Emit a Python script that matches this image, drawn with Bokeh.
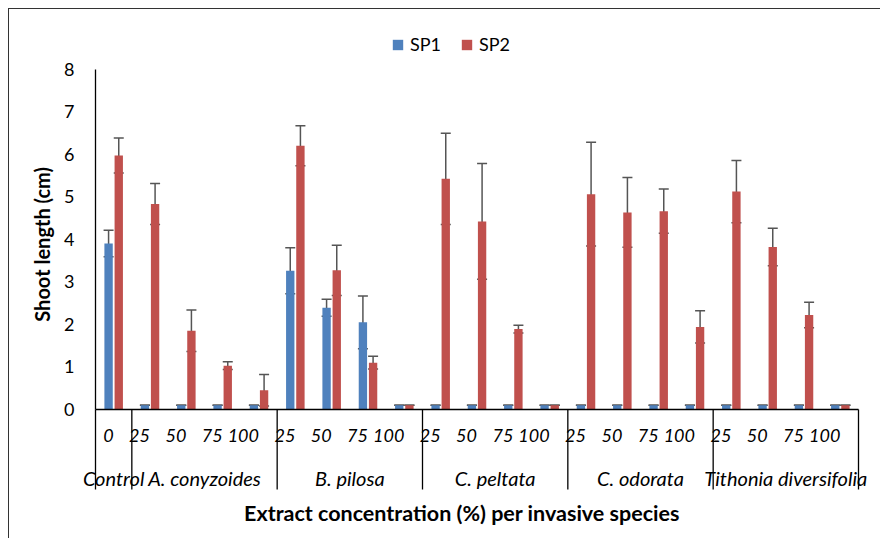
import math
from bokeh.plotting import figure
from bokeh.models import (ColumnDataSource, FactorRange, Whisker, TeeHead, Legend,
                          LegendItem, Range1d, FixedTicker)
from bokeh.core.properties import value
from bokeh.transform import dodge
from bokeh.embed import file_html
from bokeh.resources import INLINE

groups = ["Control", "A. conyzoides", "B. pilosa", "C. peltata", "C. odorata", "Tithonia diversifolia"]
concentrations = {"Control": ["0"],
                  "A. conyzoides": ["25", "50", "75", "100"],
                  "B. pilosa": ["25", "50", "75", "100"],
                  "C. peltata": ["25", "50", "75", "100"],
                  "C. odorata": ["25", "50", "75", "100"],
                  "Tithonia diversifolia": ["25", "50", "75", "100"]}

sp1 = [3.90, 0.1, 0.1, 0.1, 0.1, 3.26, 2.39, 2.05, 0.1, 0.1, 0.1, 0.1, 0.1,
       0.1, 0.1, 0.1, 0.1, 0.1, 0.1, 0.1, 0.1]
sp1_err = [0.31, 0, 0, 0, 0, 0.54, 0.20, 0.62, 0, 0, 0, 0, 0,
           0, 0, 0, 0, 0, 0, 0, 0]
sp2 = [5.97, 4.83, 1.85, 1.03, 0.45, 6.20, 3.27, 1.10, 0.1, 5.42, 4.42, 1.89, 0.1,
       5.06, 4.63, 4.66, 1.94, 5.12, 3.82, 2.22, 0.1]
sp2_err = [0.41, 0.48, 0.49, 0.09, 0.37, 0.47, 0.59, 0.15, 0, 1.07, 1.36, 0.09, 0,
           1.22, 0.82, 0.52, 0.38, 0.73, 0.44, 0.30, 0]

y_ticks = [0, 1, 2, 3, 4, 5, 6, 7, 8]
Y_MAX = 8

x_title = "Extract concentration (%) per invasive species"
y_title = "Shoot length (cm)"

BLUE = "#4F81BD"
RED = "#C0504D"
FONT = "Lato"
Y_TOP = 9.0           # frame extends above the axis top to hold the legend
SEP_DEPTH = -1.88     # group separators run down through the category labels
X_TITLE_Y = -2.44     # x title sits below the group labels
Y_TITLE_Y = 3.88      # vertical centre of the y title

factors = [(g, c) for g in groups for c in concentrations[g]]

src = ColumnDataSource(dict(
    x=factors, sp1=sp1, sp2=sp2,
    sp1_lo=[v - e for v, e in zip(sp1, sp1_err)], sp1_hi=[v + e for v, e in zip(sp1, sp1_err)],
    sp2_lo=[v - e for v, e in zip(sp2, sp2_err)], sp2_hi=[v + e for v, e in zip(sp2, sp2_err)],
))

xr = FactorRange(*factors, group_padding=0, factor_padding=0, range_padding=0)
p = figure(x_range=xr, y_range=Range1d(0, Y_TOP), width=872, height=530,
           output_backend="svg", toolbar_location=None,
           min_border_left=86, min_border_right=23, min_border_top=17, min_border_bottom=130,
           styles={"margin-left": "8px", "margin-top": "8px",
                   "border-left": "1.5px solid #333333", "border-top": "1.5px solid #333333"})

r1 = p.vbar(x=dodge("x", -0.14, range=xr), top="sp1", width=0.23, source=src,
            fill_color=BLUE, line_color=None)
r2 = p.vbar(x=dodge("x", 0.14, range=xr), top="sp2", width=0.23, source=src,
            fill_color=RED, line_color=None)

for off, lo, hi in [(-0.14, "sp1_lo", "sp1_hi"), (0.14, "sp2_lo", "sp2_hi")]:
    w = Whisker(base=dodge("x", off, range=xr), lower=lo, upper=hi, source=src,
                line_color="#555555", line_width=1.5,
                upper_head=TeeHead(size=10, line_color="#555555", line_width=1.5),
                lower_head=TeeHead(size=10, line_color="#555555", line_width=1.5))
    p.add_layout(w)

# group separators (drawn at overlay level so they run below the frame)
first_of_group = [(g, concentrations[g][0]) for g in groups]
last_factor = [factors[-1]]
sep_src = ColumnDataSource(dict(x=first_of_group, y0=[0] * len(groups), y1=[SEP_DEPTH] * len(groups)))
end_src = ColumnDataSource(dict(x=last_factor, y0=[0], y1=[SEP_DEPTH]))
p.segment(x0=dodge("x", -0.5, range=xr), x1=dodge("x", -0.5, range=xr), y0="y0", y1="y1",
          source=sep_src, line_color="black", line_width=1.3, level="overlay")
p.segment(x0=dodge("x", 0.5, range=xr), x1=dodge("x", 0.5, range=xr), y0="y0", y1="y1",
          source=end_src, line_color="black", line_width=1.3, level="overlay")

p.grid.visible = False
p.outline_line_color = None
p.background_fill_color = "white"
p.border_fill_color = "white"

# y axis
p.yaxis.ticker = FixedTicker(ticks=y_ticks)
p.yaxis.bounds = (0, Y_MAX)
p.yaxis.axis_line_color = "black"
p.yaxis.axis_line_width = 1.3
p.yaxis.major_tick_line_color = None
p.yaxis.minor_tick_line_color = None
p.yaxis.major_tick_out = 0
p.yaxis.major_tick_in = 0
p.yaxis.major_label_standoff = 21
p.yaxis.major_label_text_font = FONT
p.yaxis.major_label_text_font_size = "18px"
p.yaxis.major_label_text_color = "black"

# x axis
p.xaxis.axis_line_color = "black"
p.xaxis.axis_line_width = 1.3
p.xaxis.major_tick_line_color = None
p.xaxis.major_tick_out = 12
p.xaxis.major_tick_in = 0
p.xaxis.major_label_standoff = 14
p.xaxis.major_label_text_font = FONT
p.xaxis.major_label_text_font_size = "18px"
p.xaxis.major_label_text_font_style = "italic"
p.xaxis.major_label_text_color = "black"
p.xaxis.major_label_orientation = 0
p.xaxis.group_text_font = FONT
p.xaxis.group_text_font_size = "20px"
p.xaxis.group_text_font_style = "italic"
p.xaxis.group_text_color = "black"
p.xaxis.separator_line_color = None

# axis titles
mid_factor = factors[len(factors) // 2]
p.text(x=[mid_factor], y=[X_TITLE_Y], text=[x_title], x_offset=-15,
       text_align="center", text_baseline="middle", text_font=value(FONT),
       text_font_size="21.5px", text_font_style="bold", text_color="black", level="overlay")
p.text(x=[factors[0]], y=[Y_TITLE_Y], text=[y_title], x_offset=-72, angle=math.pi / 2,
       text_align="center", text_baseline="middle", text_font=value(FONT),
       text_font_size="20px", text_font_style="bold", text_color="black", level="overlay")

legend = Legend(items=[LegendItem(label="SP1", renderers=[r1]),
                       LegendItem(label="SP2", renderers=[r2])],
                orientation="horizontal", location=(296, 354),
                glyph_width=13, glyph_height=13, label_standoff=6, spacing=19,
                label_text_font=FONT, label_text_font_size="18px", label_text_color="black",
                padding=0, margin=0, border_line_color=None, background_fill_alpha=0,
                label_height=20)
p.add_layout(legend, "center")

open("out.html", "w").write(file_html(p, INLINE))
